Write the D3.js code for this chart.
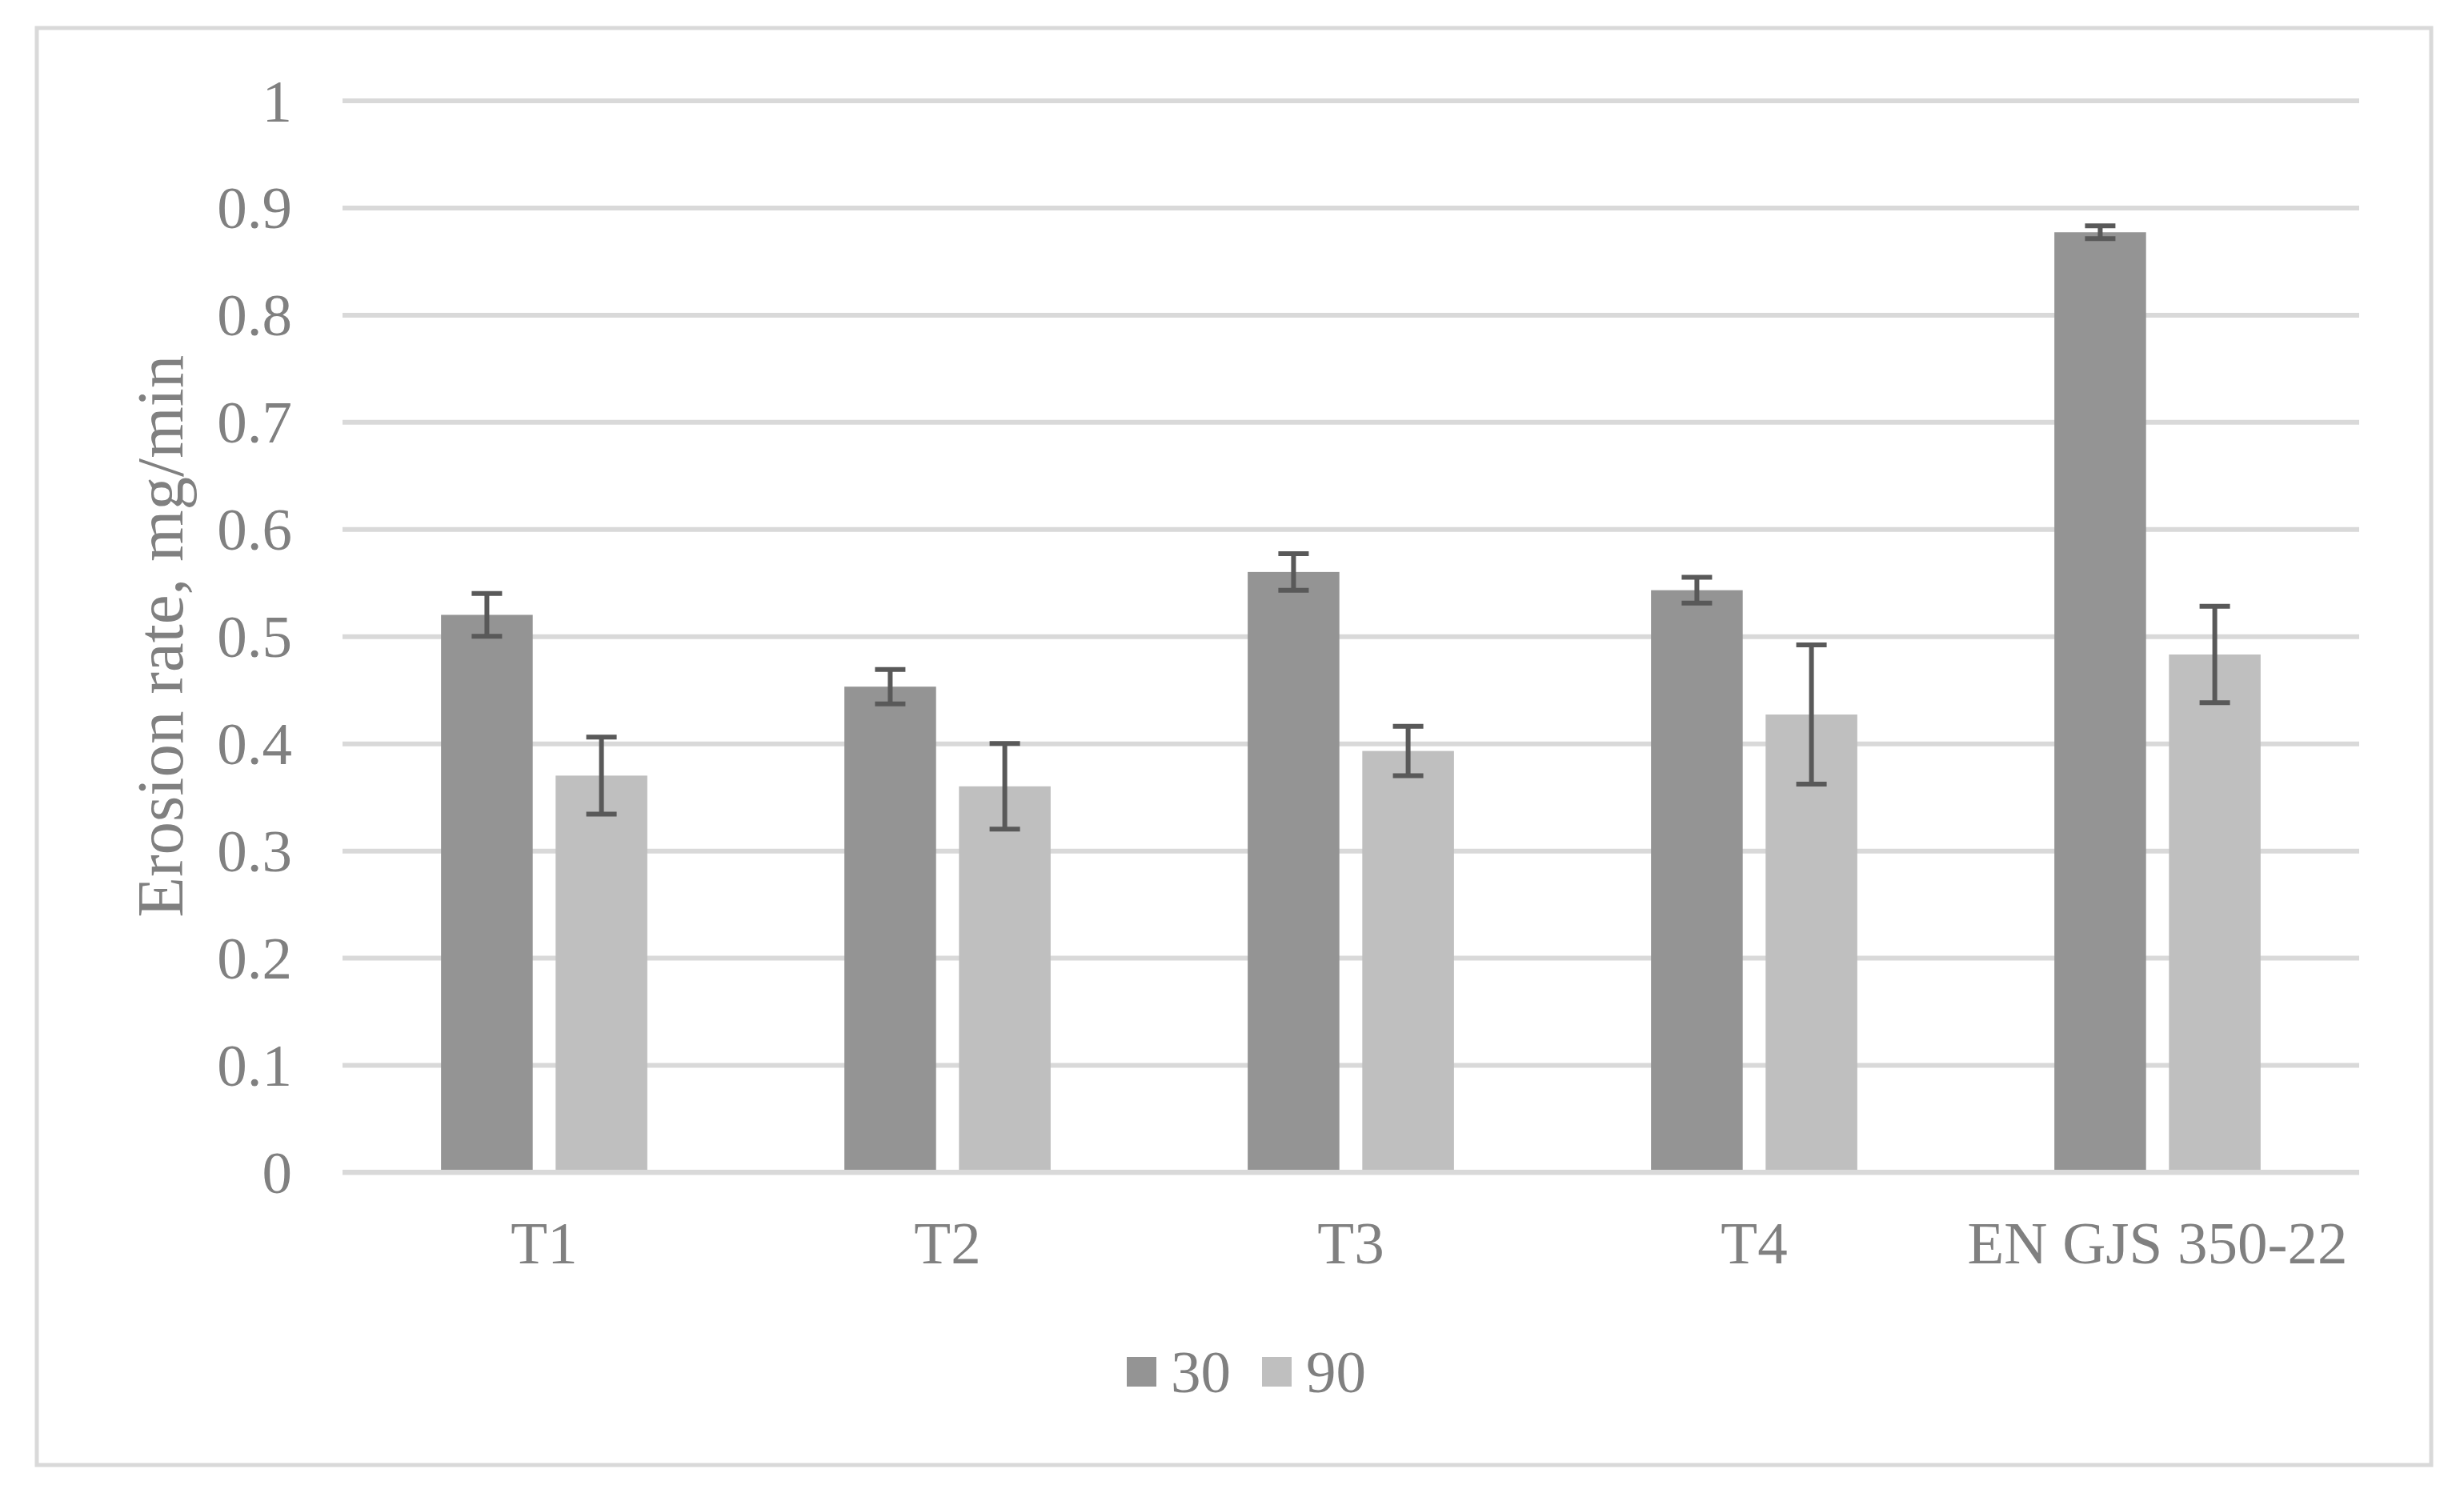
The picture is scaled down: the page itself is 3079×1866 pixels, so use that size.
<!DOCTYPE html>
<html>
<head>
<meta charset="utf-8">
<script src="https://cdn.jsdelivr.net/npm/d3@7"></script>
<style>
  html, body { margin: 0; padding: 0; background: #ffffff; }
  svg { display: block; }
  text { font-family: "Liberation Serif", "Times New Roman", serif; fill: #808080; }
</style>
</head>
<body>
<svg id="chart" width="3079" height="1866"></svg>
<script>
// ---- data ----
const categories = ["T1", "T2", "T3", "T4", "EN GJS 350-22"];
const seriesNames = ["30", "90"];
const values30 = [0.520, 0.453, 0.560, 0.543, 0.877];
const errors30 = [0.020, 0.016, 0.017, 0.012, 0.006];
const values90 = [0.370, 0.360, 0.393, 0.427, 0.483];
const errors90 = [0.036, 0.040, 0.023, 0.065, 0.045];
const yTicks = [0, 0.1, 0.2, 0.3, 0.4, 0.5, 0.6, 0.7, 0.8, 0.9, 1];
const yTitle = "Erosion rate, mg/min";
const colors = ["#949494", "#bfbfbf"];

(function () {
const rows = categories.map((c, i) => ({
  cat: c,
  vals: [
    { s: seriesNames[0], v: values30[i], e: errors30[i] },
    { s: seriesNames[1], v: values90[i], e: errors90[i] }
  ]
}));

const svg = d3.select("#chart");

// outer chart border
svg.append("rect")
  .attr("x", 46).attr("y", 35)
  .attr("width", 3038 - 46).attr("height", 1831 - 35)
  .attr("fill", "#ffffff")
  .attr("stroke", "#d9d9d9").attr("stroke-width", 5);

const pLeft = 428, pRight = 2948, pTop = 125.5, pBottom = 1465;

const y = d3.scaleLinear().domain([0, 1]).range([pBottom, pTop]);
const x0 = d3.scaleBand().domain(categories).range([pLeft, pRight]).padding(0);
const x1 = d3.scaleBand().domain(seriesNames).range([0, x0.bandwidth()])
  .paddingInner(0.2).paddingOuter(0.86);
const color = d3.scaleOrdinal().domain(seriesNames).range(colors);

// gridlines + y labels
const yAxis = d3.axisLeft(y).tickValues(yTicks)
  .tickFormat(d3.format("~g"))
  .tickSize(-(pRight - pLeft)).tickPadding(63);
const gy = svg.append("g").attr("transform", `translate(${pLeft},0)`).call(yAxis);
gy.select(".domain").remove();
gy.selectAll(".tick line").attr("stroke", "#d9d9d9").attr("stroke-width", 6);
gy.selectAll(".tick text")
  .attr("fill", "#808080")
  .style("font-size", "75px")
  .style("font-family", "'Liberation Serif', 'Times New Roman', serif")
  .attr("dy", "0.34em");

// bars
const groups = svg.append("g").selectAll("g")
  .data(rows).join("g")
  .attr("transform", d => `translate(${x0(d.cat)},0)`);

groups.selectAll("rect")
  .data(d => d.vals).join("rect")
  .attr("x", d => x1(d.s))
  .attr("y", d => y(d.v))
  .attr("width", x1.bandwidth())
  .attr("height", d => y(0) - y(d.v))
  .attr("fill", d => color(d.s));

// zero line on top
svg.append("line")
  .attr("x1", pLeft).attr("x2", pRight)
  .attr("y1", y(0)).attr("y2", y(0))
  .attr("stroke", "#d9d9d9").attr("stroke-width", 6);

// error bars
const capW = 38;
const eb = groups.selectAll("g.err")
  .data(d => d.vals).join("g").attr("class", "err")
  .attr("stroke", "#595959").attr("stroke-width", 6);
eb.append("line")
  .attr("x1", d => x1(d.s) + x1.bandwidth() / 2)
  .attr("x2", d => x1(d.s) + x1.bandwidth() / 2)
  .attr("y1", d => y(d.v + d.e)).attr("y2", d => y(d.v - d.e));
eb.append("line")
  .attr("x1", d => x1(d.s) + x1.bandwidth() / 2 - capW / 2)
  .attr("x2", d => x1(d.s) + x1.bandwidth() / 2 + capW / 2)
  .attr("y1", d => y(d.v + d.e)).attr("y2", d => y(d.v + d.e));
eb.append("line")
  .attr("x1", d => x1(d.s) + x1.bandwidth() / 2 - capW / 2)
  .attr("x2", d => x1(d.s) + x1.bandwidth() / 2 + capW / 2)
  .attr("y1", d => y(d.v - d.e)).attr("y2", d => y(d.v - d.e));

// category labels
svg.append("g").selectAll("text")
  .data(categories).join("text")
  .attr("x", d => x0(d) + x0.bandwidth() / 2)
  .attr("y", 1579)
  .attr("text-anchor", "middle")
  .style("font-size", "75px")
  .text(d => d);

// y axis title
svg.append("text")
  .attr("transform", `translate(228,${(pTop + pBottom) / 2}) rotate(-90)`)
  .attr("text-anchor", "middle")
  .style("font-size", "83px")
  .text(yTitle);

// legend
const legendX = [1408, 1577];
const leg = svg.append("g").selectAll("g")
  .data(seriesNames).join("g")
  .attr("transform", (d, i) => `translate(${legendX[i]},0)`);
leg.append("rect")
  .attr("x", 0).attr("y", 1696)
  .attr("width", 37).attr("height", 37)
  .attr("fill", d => color(d));
leg.append("text")
  .attr("x", 55).attr("y", 1740)
  .style("font-size", "75px")
  .text(d => d);
})();
</script>
</body>
</html>
